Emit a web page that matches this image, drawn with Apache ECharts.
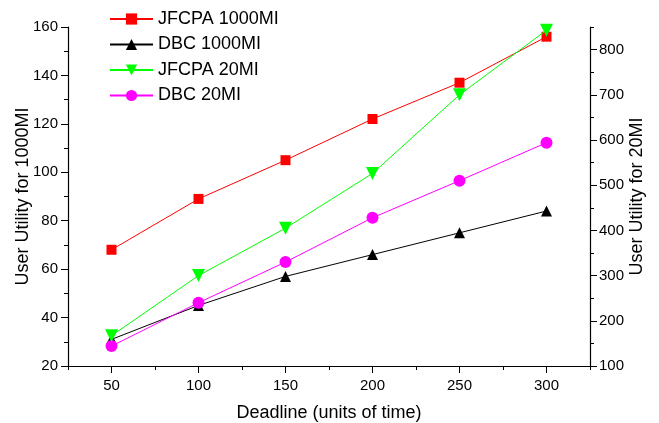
<!DOCTYPE html>
<html>
<head>
<meta charset="utf-8">
<script src="https://cdn.jsdelivr.net/npm/echarts@6/dist/echarts.min.js"></script>
<style>html,body{margin:0;padding:0;background:#fff}#c{width:659px;height:423px}</style>
</head>
<body>
<div id="c"></div>
<script>
const deadlines = [50, 100, 150, 200, 250, 300];
const jfcpa1000 = [68, 89, 105, 122, 137, 156];
const dbc1000 = [31, 45, 57, 66, 75, 84];
const jfcpa20 = [167, 300, 405, 526, 700, 843];
const dbc20 = [144, 240, 330, 428, 510, 594];
const xTickLabels = [50, 100, 150, 200, 250, 300];
const xMinorTicks = [25, 75, 125, 175, 225, 275, 325];
const rightTickLabels = [100, 200, 300, 400, 500, 600, 700, 800];
const rightMinorTicks = [150, 250, 350, 450, 550, 650, 750, 850];

const font = 'Liberation Sans, Arial, sans-serif';
const pair = arr => deadlines.map((d, i) => [d, arr[i]]);

const chart = echarts.init(document.getElementById('c'), null, {renderer: 'canvas'});
const axisLineStyle = {show: true, lineStyle: {color: '#000', width: 1.2}};
chart.setOption({
  animation: false,
  backgroundColor: '#fff',
  grid: {left: 68, right: 69, top: 27, bottom: 57, containLabel: false, outerBoundsMode: 'none'},
  legend: {
    orient: 'vertical', left: 104, top: 5, itemWidth: 43, itemHeight: 14, itemGap: 7.5,
    textStyle: {fontFamily: font, fontSize: 18, color: '#000'},
    data: ['JFCPA 1000MI', 'DBC 1000MI', 'JFCPA 20MI', 'DBC 20MI']
  },
  xAxis: [{
    type: 'value', min: 25, max: 325, interval: 25,
    name: 'Deadline (units of time)', nameLocation: 'middle', nameGap: 38, nameMoveOverlap: false,
    nameTextStyle: {fontFamily: font, fontSize: 18, color: '#000'},
    axisLine: axisLineStyle,
    axisTick: {show: true, length: 7, customValues: xTickLabels, lineStyle: {color: '#000'}},
    axisLabel: {customValues: xTickLabels, fontFamily: font, fontSize: 15, color: '#000', margin: 12},
    splitLine: {show: false}
  }, {
    type: 'value', min: 25, max: 325, interval: 25, position: 'bottom',
    axisLine: {show: false},
    axisTick: {show: true, length: 4, customValues: xMinorTicks, lineStyle: {color: '#000'}},
    axisLabel: {show: false}, splitLine: {show: false}
  }],
  yAxis: [{
    type: 'value', min: 20, max: 160, interval: 20, position: 'left',
    name: 'User Utility for 1000MI', nameLocation: 'middle', nameGap: 36, nameMoveOverlap: false,
    nameTextStyle: {fontFamily: font, fontSize: 18, color: '#000'},
    axisLine: axisLineStyle,
    axisTick: {show: true, length: 7, lineStyle: {color: '#000'}},
    minorTick: {show: true, splitNumber: 2, length: 4, lineStyle: {color: '#000'}},
    axisLabel: {fontFamily: font, fontSize: 15, color: '#000', margin: 10},
    splitLine: {show: false}, minorSplitLine: {show: false}
  }, {
    type: 'value', min: 100, max: 850, interval: 50, position: 'right',
    name: 'User Utility for 20MI', nameLocation: 'middle', nameGap: 38, nameMoveOverlap: false,
    nameTextStyle: {fontFamily: font, fontSize: 18, color: '#000'},
    axisLine: axisLineStyle,
    axisTick: {show: true, length: 7, customValues: rightTickLabels, lineStyle: {color: '#000'}},
    axisLabel: {customValues: rightTickLabels, fontFamily: font, fontSize: 15, color: '#000', margin: 9},
    splitLine: {show: false}
  }, {
    type: 'value', min: 100, max: 850, interval: 50, position: 'right',
    axisLine: {show: false},
    axisTick: {show: true, length: 4, customValues: rightMinorTicks, lineStyle: {color: '#000'}},
    axisLabel: {show: false}, splitLine: {show: false}
  }],
  series: [{
    name: 'JFCPA 1000MI', type: 'line', xAxisIndex: 0, yAxisIndex: 0, data: pair(jfcpa1000),
    symbol: 'rect', symbolSize: 10, color: '#ff0000', lineStyle: {width: 1, color: '#ff0000'}, z: 4
  }, {
    name: 'DBC 1000MI', type: 'line', xAxisIndex: 0, yAxisIndex: 0, data: pair(dbc1000),
    symbol: 'triangle', symbolSize: 11, color: '#000', lineStyle: {width: 1, color: '#000'}, z: 3
  }, {
    name: 'JFCPA 20MI', type: 'line', xAxisIndex: 0, yAxisIndex: 1, data: pair(jfcpa20),
    symbol: 'triangle', symbolRotate: 180, symbolSize: 13, color: '#00ff00', lineStyle: {width: 1, color: '#00ff00'}, z: 5
  }, {
    name: 'DBC 20MI', type: 'line', xAxisIndex: 0, yAxisIndex: 1, data: pair(dbc20),
    symbol: 'circle', symbolSize: 12, color: '#ff00ff', lineStyle: {width: 1, color: '#ff00ff'}, z: 4
  }]
});
</script>
</body>
</html>
